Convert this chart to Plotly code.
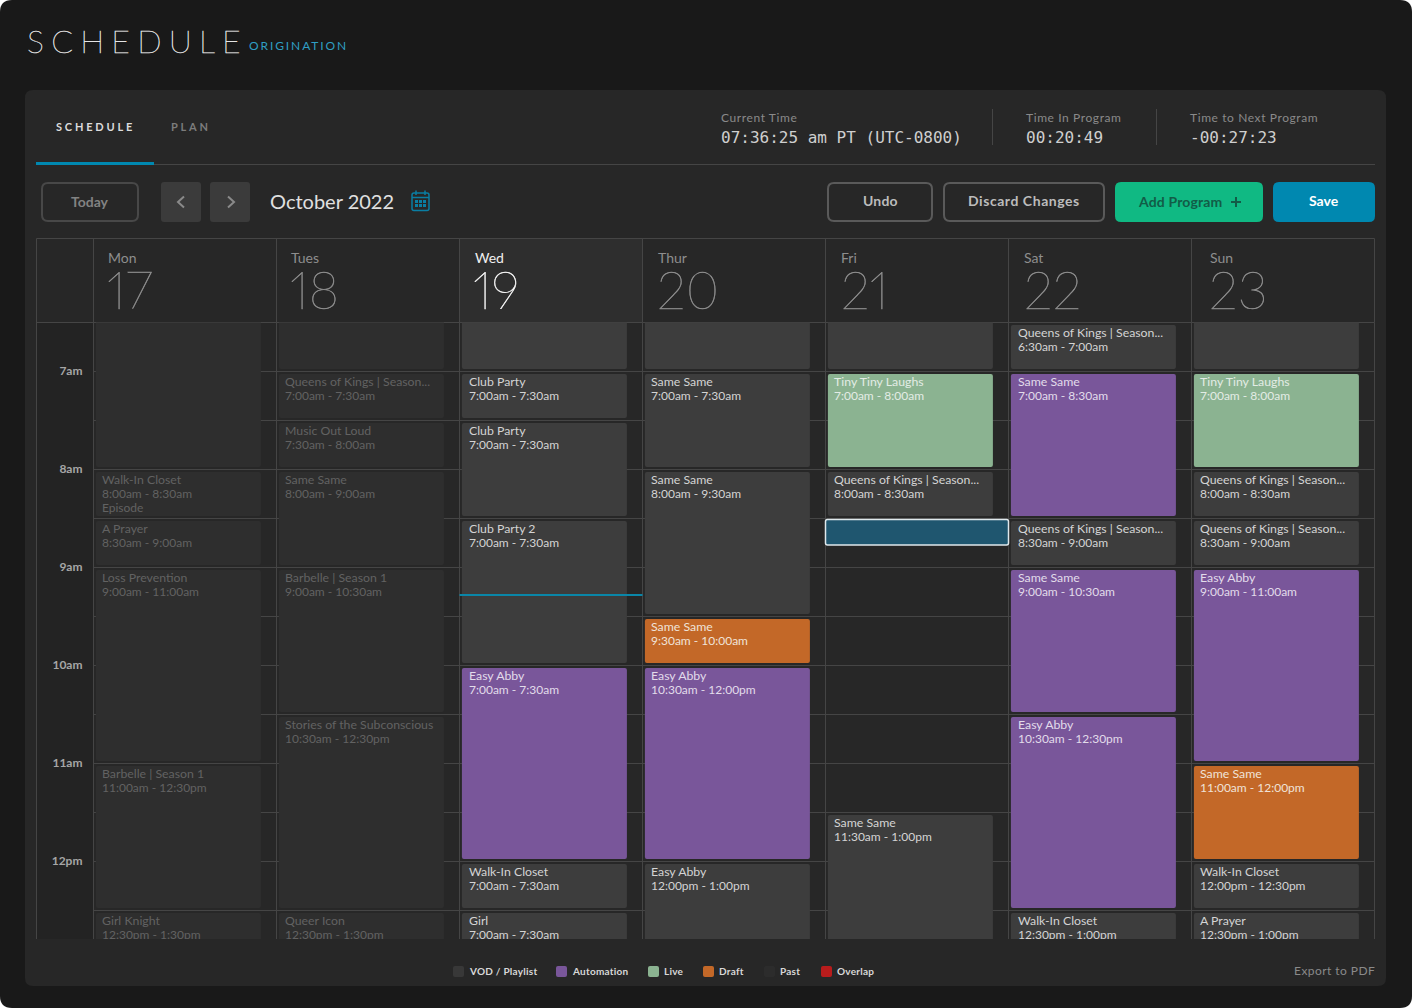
import plotly.graph_objects as go

W, H = 1412, 1008

# Calendar columns
days = ["Mon", "Tues", "Wed", "Thur", "Fri", "Sat", "Sun"]
dates = ["17", "18", "19", "20", "21", "22", "23"]
hour_vals = [7, 8, 9, 10, 11, 12]
hour_labels = ["7am", "8am", "9am", "10am", "11am", "12pm"]
half_hours = [6.5, 7.5, 8.5, 9.5, 10.5, 11.5, 12.5]

# Programs, one entry per block
block_day = [0, 0, 0, 0, 0, 0,
             1, 1, 1, 1, 1, 1, 1,
             2, 2, 2, 2, 2, 2, 2,
             3, 3, 3, 3, 3, 3,
             4, 4, 4, 4,
             5, 5, 5, 5, 5, 5,
             6, 6, 6, 6, 6, 6, 6, 6]
block_start = [6, 8, 8.5, 9, 11, 12.5,
               6, 7, 7.5, 8, 9, 10.5, 12.5,
               6, 7, 7.5, 8.5, 10, 12, 12.5,
               6, 7, 8, 9.5, 10, 12,
               6, 7, 8, 11.5,
               6.5, 7, 8.5, 9, 10.5, 12.5,
               6, 7, 8, 8.5, 9, 11, 12, 12.5]
block_end = [8, 8.5, 9, 11, 12.5, 13.5,
             7, 7.5, 8, 9, 10.5, 12.5, 13.5,
             7, 7.5, 8.5, 10, 12, 12.5, 13.5,
             7, 8, 9.5, 10, 12, 13.5,
             7, 8, 8.5, 13,
             7, 8.5, 9, 10.5, 12.5, 13,
             7, 8, 8.5, 9, 11, 12, 12.5, 13.5]
block_kind = ["Past", "Past", "Past", "Past", "Past", "Past",
              "Past", "Past", "Past", "Past", "Past", "Past", "Past",
              "VOD", "VOD", "VOD", "VOD", "Automation", "VOD", "VOD",
              "VOD", "VOD", "VOD", "Draft", "Automation", "VOD",
              "VOD", "Live", "VOD", "VOD",
              "VOD", "Automation", "VOD", "Automation", "Automation", "VOD",
              "VOD", "Live", "VOD", "VOD", "Automation", "Draft", "VOD", "VOD"]
block_title = ["", "Walk-In Closet", "A Prayer", "Loss Prevention", "Barbelle | Season 1", "Girl Knight",
               "", "Queens of Kings | Season...", "Music Out Loud", "Same Same", "Barbelle | Season 1",
               "Stories of the Subconscious", "Queer Icon",
               "", "Club Party", "Club Party", "Club Party 2", "Easy Abby", "Walk-In Closet", "Girl",
               "", "Same Same", "Same Same", "Same Same", "Easy Abby", "Easy Abby",
               "", "Tiny Tiny Laughs", "Queens of Kings | Season...", "Same Same",
               "Queens of Kings | Season...", "Same Same", "Queens of Kings | Season...", "Same Same",
               "Easy Abby", "Walk-In Closet",
               "", "Tiny Tiny Laughs", "Queens of Kings | Season...", "Queens of Kings | Season...",
               "Easy Abby", "Same Same", "Walk-In Closet", "A Prayer"]
block_time = ["", "8:00am - 8:30am", "8:30am - 9:00am", "9:00am - 11:00am", "11:00am - 12:30pm", "12:30pm - 1:30pm",
              "", "7:00am - 7:30am", "7:30am - 8:00am", "8:00am - 9:00am", "9:00am - 10:30am",
              "10:30am - 12:30pm", "12:30pm - 1:30pm",
              "", "7:00am - 7:30am", "7:00am - 7:30am", "7:00am - 7:30am", "7:00am - 7:30am",
              "7:00am - 7:30am", "7:00am - 7:30am",
              "", "7:00am - 7:30am", "8:00am - 9:30am", "9:30am - 10:00am", "10:30am - 12:00pm", "12:00pm - 1:00pm",
              "", "7:00am - 8:00am", "8:00am - 8:30am", "11:30am - 1:00pm",
              "6:30am - 7:00am", "7:00am - 8:30am", "8:30am - 9:00am", "9:00am - 10:30am",
              "10:30am - 12:30pm", "12:30pm - 1:00pm",
              "", "7:00am - 8:00am", "8:00am - 8:30am", "8:30am - 9:00am", "9:00am - 11:00am",
              "11:00am - 12:00pm", "12:00pm - 12:30pm", "12:30pm - 1:00pm"]

selected_day = [4]
selected_start = [8.51]
selected_end = [8.77]
now_hour = 9.28

legend_names = ["VOD / Playlist", "Automation", "Live", "Draft", "Past", "Overlap"]

# Colours
PAGE = "#191919"
PANEL = "#272727"
GUTTER = "#232323"
GRID = "#454545"
BLUE = "#0088b0"
kind_color = {"VOD": "#3d3d3d", "Automation": "#79569a", "Live": "#8bb391", "Draft": "#c36828", "Past": "#2e2e2e"}
text_color = {"VOD": "#d4d4d4", "Automation": "#e2dcea", "Live": "#e3ece5", "Draft": "#f0e3d8", "Past": "#626262"}
legend_colors = ["#383838", "#79569a", "#8bb391", "#c36828", "#2c2c2c", "#b81c1c"]

SANS = "Lato"
MONO = "DejaVu Sans Mono"

# Plot area in page pixels
COL_LEFT, COL_RIGHT = 93.5, 1374.5
GRID_TOP, GRID_BOTTOM = 322.5, 939
PX_PER_HOUR = 98
PX_PER_DAY = (COL_RIGHT - COL_LEFT) / 7
HOUR_TOP = 7 - (371.5 - GRID_TOP) / PX_PER_HOUR
HOUR_BOTTOM = 7 + (GRID_BOTTOM - 371.5) / PX_PER_HOUR


def px(x):
    return x / W


def py(y):
    return 1 - y / H


def rounded(x0, y0, x1, y1, r):
    # rounded rectangle as a paper path, given in page pixels
    pts = [
        ("M", x0 + r, y0), ("L", x1 - r, y0), ("Q", x1, y0, x1, y0 + r),
        ("L", x1, y1 - r), ("Q", x1, y1, x1 - r, y1), ("L", x0 + r, y1),
        ("Q", x0, y1, x0, y1 - r), ("L", x0, y0 + r), ("Q", x0, y0, x0 + r, y0),
    ]
    out = ""
    for p in pts:
        if p[0] == "Q":
            out += f"Q{px(p[1])},{py(p[2])} {px(p[3])},{py(p[4])} "
        else:
            out += f"{p[0]}{px(p[1])},{py(p[2])} "
    return out + "Z"


shapes = []
notes = []


def box(x0, y0, x1, y1, r=0, fill=None, line=None, lw=0):
    shapes.append(dict(type="path", path=rounded(x0, y0, x1, y1, r), xref="paper", yref="paper", layer="below",
                       fillcolor=fill or "rgba(0,0,0,0)", line=dict(color=line or "rgba(0,0,0,0)", width=lw)))


def seg(points, color, lw=1):
    path = "M" + " L".join(f"{px(a)},{py(b)}" for a, b in points)
    shapes.append(dict(type="path", path=path, xref="paper", yref="paper", layer="below",
                       line=dict(color=color, width=lw)))


def label(x, y, text, size, color, anchor="left", family=SANS, weight=400, spacing=None, extra=""):
    if spacing is not None or extra:
        sp = f"letter-spacing:{spacing}px;" if spacing is not None else ""
        text = f'<span style="{sp}{extra}">{text}</span>'
    notes.append(dict(x=px(x), y=py(y), xref="paper", yref="paper", text=text, showarrow=False,
                      xanchor=anchor, yanchor="middle", borderpad=0,
                      font=dict(family=family, size=size, color=color, weight=weight)))


# page and panel
box(0, 0, W, H, 12, fill=PAGE)
box(25, 90, 1386, 986, 8, fill=PANEL)
label(26, 41, "SCHEDULE", 32, "#e4e4e4", weight=100, spacing=7.2, extra="stroke:#e4e4e4;stroke-width:0.45px;")
label(248, 46, "ORIGINATION", 12, "#2f9fc4", spacing=1.9)

# tabs and clock row
seg([(36, 164.5), (1375, 164.5)], GRID, 1)
box(36, 162, 154, 165, 0, fill=BLUE)
label(55, 126, "SCHEDULE", 11, "#dcdcdc", weight=700, spacing=2.8)
label(170, 126, "PLAN", 11, "#7c7c7c", weight=700, spacing=2.8)
seg([(992.5, 109), (992.5, 145)], GRID, 1)
seg([(1156.5, 109), (1156.5, 145)], GRID, 1)
label(720, 117, "Current Time", 12, "#8a8a8a", spacing=0.6)
label(720, 137.5, "07:36:25 am PT (UTC-0800)", 16, "#cfcfcf", family=MONO)
label(1025, 117, "Time In Program", 12, "#8a8a8a", spacing=0.6)
label(1025, 137.5, "00:20:49", 16, "#cfcfcf", family=MONO)
label(1189, 117, "Time to Next Program", 12, "#8a8a8a", spacing=0.6)
label(1189, 137.5, "-00:27:23", 16, "#cfcfcf", family=MONO)

# toolbar
box(42, 183, 138, 221, 6, line="#484848", lw=2)
label(90, 202, "Today", 14, "#828282", anchor="center", weight=700)
box(161, 182, 201, 222, 3, fill="#3b3b3b")
box(210, 182, 250, 222, 3, fill="#3b3b3b")
seg([(184, 196.5), (178, 202), (184, 207.5)], "#8a8a8a", 2)
seg([(228, 196.5), (234, 202), (228, 207.5)], "#8a8a8a", 2)
label(269, 201, "October 2022", 20, "#e0e0e0")

# calendar icon
ICON = "#0a7ea3"
box(412, 193, 429, 210.5, 2, line=ICON, lw=1.5)
seg([(412, 197.5), (429, 197.5)], ICON, 1.5)
seg([(416, 190.5), (416, 195)], ICON, 1.5)
seg([(425, 190.5), (425, 195)], ICON, 1.5)
for gx in (415, 419, 423):
    box(gx, 200, gx + 3, 203, 0, fill=ICON)
    box(gx, 204, gx + 3, 207, 0, fill=ICON)

box(828, 183, 932, 221, 6, line="#5a5a5a", lw=2)
label(880.5, 201, "Undo", 14, "#bcbcbc", anchor="center", weight=700, spacing=0.2)
box(944, 183, 1104, 221, 6, line="#5a5a5a", lw=2)
label(1024, 201, "Discard Changes", 14, "#bcbcbc", anchor="center", weight=700, spacing=0.55)
box(1115, 182, 1263, 222, 6, fill="#10b983")
label(1180, 202, "Add Program", 14, "#125c47", anchor="center", weight=700, spacing=0.15)
seg([(1231, 202), (1241, 202)], "#125c47", 2)
seg([(1236, 197), (1236, 207)], "#125c47", 2)
box(1273, 182, 1375, 222, 6, fill=BLUE)
label(1324, 201, "Save", 14, "#ffffff", anchor="center", weight=700)

# calendar header, gutter and outer rules
box(37, GRID_TOP, COL_LEFT, GRID_BOTTOM, 0, fill=GUTTER)
box(459.5, 238.5, 642.5, GRID_TOP, 0, fill="#2e2e2e")
seg([(36.5, 238.5), (1374.5, 238.5)], GRID, 1)
seg([(36.5, GRID_TOP), (1374.5, GRID_TOP)], GRID, 1)
seg([(36.5, 238.5), (36.5, GRID_BOTTOM)], GRID, 1)
seg([(COL_LEFT, GRID_TOP), (COL_LEFT, GRID_BOTTOM)], GRID, 1)
seg([(COL_RIGHT, GRID_TOP), (COL_RIGHT, GRID_BOTTOM)], GRID, 1)
header_left = [107, 290, 474, 657, 840, 1023, 1209]
date_left = [106, 289, 472, 656, 840, 1023, 1208]
for i in range(8):
    seg([(COL_LEFT + i * PX_PER_DAY, 238.5), (COL_LEFT + i * PX_PER_DAY, GRID_TOP)], GRID, 1)
for i in range(7):
    today = days[i] == "Wed"
    date_color = "#f4f4f4" if today else "#8e8e8e"
    label(header_left[i], 257, days[i], 14, "#f0f0f0" if today else "#8e8e8e")
    label(date_left[i], 289, dates[i], 52, date_color, weight=100,
          extra=f"font-feature-settings:'pnum';font-variant-numeric:proportional-nums;stroke:{date_color};stroke-width:0.5px;")

# legend and footer
legend_swatch = [453, 556, 648, 703, 764, 821]
for name, color, sx in zip(legend_names, legend_colors, legend_swatch):
    box(sx, 966, sx + 11, 977, 2, fill=color)
    label(sx + 15, 971, name, 10, "#d8d8d8", weight=700, spacing=0.25)
label(1375.5, 970.5, "Export to PDF", 12, "#8a8a8a", anchor="right", spacing=0.45)

fig = go.Figure()

# block sizes in axis units: a little inset from the half hour rules
BAR_LEFT = 2.4 / PX_PER_DAY
BAR_WIDTH = 165 / PX_PER_DAY
INSET = 2.5 / PX_PER_HOUR

for kind in ["Past", "VOD", "Automation", "Live", "Draft"]:
    idx = [i for i, k in enumerate(block_kind) if k == kind]
    fig.add_trace(go.Bar(
        x=[block_day[i] for i in idx],
        base=[block_start[i] + INSET for i in idx],
        y=[block_end[i] - block_start[i] - 2 * INSET for i in idx],
        width=BAR_WIDTH,
        offset=BAR_LEFT,
        name=kind,
        marker=dict(color=kind_color[kind], line=dict(width=0)),
        hoverinfo="skip",
        showlegend=False,
    ))

fig.add_trace(go.Bar(
    x=selected_day,
    base=selected_start,
    y=[e - s for s, e in zip(selected_start, selected_end)],
    width=1,
    offset=0,
    marker=dict(color="#1f566f", line=dict(color="#dfe8ec", width=1.5)),
    hoverinfo="skip",
    showlegend=False,
))

# current time line
fig.add_trace(go.Scatter(
    x=[2, 3], y=[now_hour, now_hour], mode="lines",
    line=dict(color="#0a86a8", width=2), hoverinfo="skip", showlegend=False,
))

# block captions, one row of text per line
text_pad = [8.5, 8.5, 9.5, 8.5, 8.5, 9.5, 8.5]
txt_x, txt_y, txt_s, txt_c, txt_z = [], [], [], [], []
for i in range(len(block_day)):
    if not block_title[i]:
        continue
    d = block_day[i]
    tx = d + text_pad[d] / PX_PER_DAY
    rows = [block_title[i], block_time[i]]
    if block_title[i] == "Walk-In Closet" and d == 0:
        rows.append("Episode")
    for r, row in enumerate(rows):
        txt_x.append(tx)
        txt_y.append(block_start[i] + (11.5 + 14 * r) / PX_PER_HOUR)
        txt_s.append(row)
        txt_c.append(text_color[block_kind[i]])
        txt_z.append(12.3 if r == 0 else 12)

fig.add_trace(go.Scatter(
    x=txt_x, y=txt_y, text=txt_s, mode="text", textposition="middle right",
    textfont=dict(family=SANS, size=txt_z, color=txt_c),
    hoverinfo="skip", showlegend=False,
))

fig.update_layout(
    width=W,
    height=H,
    margin=dict(l=0, r=0, t=0, b=0),
    paper_bgcolor="#ffffff",
    plot_bgcolor="rgba(0,0,0,0)",
    barmode="overlay",
    barcornerradius=2,
    shapes=shapes,
    annotations=notes,
    xaxis=dict(
        domain=[px(COL_LEFT), px(COL_RIGHT)],
        range=[0, 7],
        tickvals=list(range(8)),
        showticklabels=False,
        ticks="",
        showgrid=True,
        gridcolor=GRID,
        gridwidth=1,
        zeroline=False,
        fixedrange=True,
    ),
    yaxis=dict(
        domain=[py(GRID_BOTTOM), py(GRID_TOP)],
        range=[HOUR_BOTTOM, HOUR_TOP],
        tickvals=hour_vals,
        ticktext=hour_labels,
        ticks="",
        ticklabelstandoff=10,
        ticklabelshift=1,
        tickfont=dict(family=SANS, size=12, color="#a6a6a6", weight=700),
        showgrid=True,
        gridcolor=GRID,
        gridwidth=1,
        zeroline=False,
        fixedrange=True,
        minor=dict(tickvals=half_hours, showgrid=True, gridcolor=GRID, gridwidth=1, ticks=""),
    ),
)

fig.write_html("out.html", config={"displayModeBar": False},
               post_script="document.body.style.margin='0';document.body.style.overflow='hidden';")
